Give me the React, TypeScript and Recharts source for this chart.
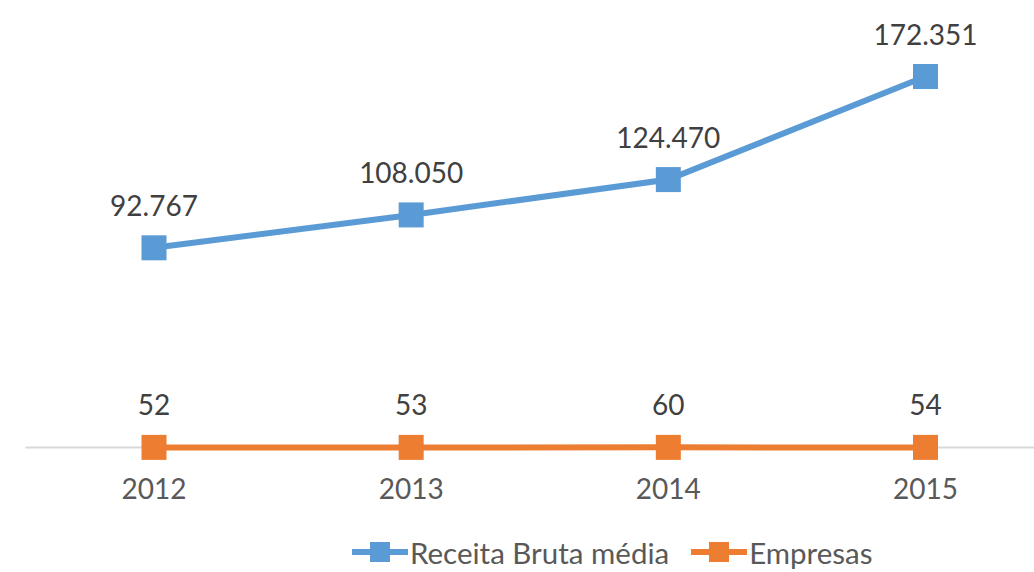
import { LineChart, Line, XAxis, YAxis, Legend, LabelList, CartesianGrid } from 'recharts';

const years = ['2012', '2013', '2014', '2015'];
const receitaBrutaMedia = [92767, 108050, 124470, 172351];
const empresas = [52, 53, 60, 54];

const BLUE = '#5B9BD5';
const ORANGE = '#ED7D31';
const FONT = 'Lato, "Open Sans", sans-serif';

const data = years.map((year, i) => ({
  year,
  receita: receitaBrutaMedia[i],
  empresas: empresas[i],
}));

const fmt = (v: number) => String(v).replace(/\B(?=(\d{3})+(?!\d))/g, '.');

const squareDot = (color: string) => (props: any) => {
  const { cx, cy, index } = props;
  if (cx == null || cy == null) return null;
  return <rect key={`dot-${index}`} x={cx - 12.5} y={cy - 12.5} width={25} height={25} fill={color} />;
};

const valueLabel = (props: any) => {
  const { x, y, value, index } = props;
  return (
    <text
      key={`lbl-${index}`}
      x={x}
      y={y - 32}
      textAnchor="middle"
      fontSize={28}
      fontFamily={FONT}
      fill="#404040"
    >
      {fmt(value)}
    </text>
  );
};

const legendItems = [
  { name: 'Receita Bruta média', color: BLUE },
  { name: 'Empresas', color: ORANGE },
];

const LegendContent = () => (
  <div style={{ display: 'flex', alignItems: 'center', height: 44, paddingLeft: 352, fontFamily: FONT }}>
    {legendItems.map((item) => (
      <div key={item.name} style={{ display: 'flex', alignItems: 'center', marginRight: 22 }}>
        <svg width={56} height={30}>
          <line x1={0} y1={15} x2={56} y2={15} stroke={item.color} strokeWidth={6} strokeLinecap="round" />
          <rect x={18} y={5} width={20} height={20} fill={item.color} />
        </svg>
        <span style={{ fontSize: 29.5, color: '#595959', marginLeft: 2 }}>{item.name}</span>
      </div>
    ))}
  </div>
);

export default function App() {
  return (
    <div
      style={{
        position: 'absolute',
        left: 0,
        top: 0,
        width: 1034,
        height: 572,
        overflow: 'hidden',
        background: '#fff',
        fontFamily: FONT,
      }}
    >
      <LineChart
        width={1054}
        height={572}
        data={data}
        margin={{ top: 17, right: 0, left: 25.5, bottom: 20.5 }}
      >
        <CartesianGrid vertical={false} horizontalValues={[0]} stroke="#D9D9D9" strokeWidth={2} />
        <XAxis
          dataKey="year"
          axisLine={false}
          tickLine={false}
          tickMargin={26}
          height={60}
          padding={{ left: 128.5, right: 128.5 }}
          tick={{ fontSize: 28, fill: '#595959', fontFamily: FONT }}
        />
        <YAxis hide domain={[0, 200000]} />
        <Legend verticalAlign="bottom" content={<LegendContent />} wrapperStyle={{ top: 530, left: 0, width: 1034 }} />
        <Line
          dataKey="receita"
          name="Receita Bruta média"
          stroke={BLUE}
          strokeWidth={6}
          dot={squareDot(BLUE)}
          activeDot={false}
          isAnimationActive={false}
        >
          <LabelList dataKey="receita" content={valueLabel} />
        </Line>
        <Line
          dataKey="empresas"
          name="Empresas"
          stroke={ORANGE}
          strokeWidth={6}
          dot={squareDot(ORANGE)}
          activeDot={false}
          isAnimationActive={false}
        >
          <LabelList dataKey="empresas" content={valueLabel} />
        </Line>
      </LineChart>
    </div>
  );
}
